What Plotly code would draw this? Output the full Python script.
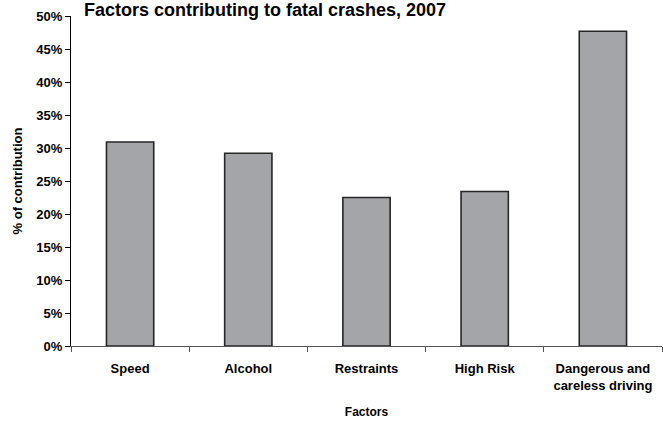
import plotly.graph_objects as go

# Share of fatal crashes in which each factor was involved (percent)
factors = ["Speed", "Alcohol", "Restraints", "High Risk", "Dangerous and<br>careless driving"]
contribution_pct = [30.9, 29.2, 22.5, 23.4, 47.7]
y_ticks = list(range(0, 51, 5))
y_tick_labels = [f"{v}%" for v in y_ticks]

FONT = "Liberation Sans, Arial, sans-serif"

fig = go.Figure(
    go.Bar(
        x=factors,
        y=contribution_pct,
        width=0.4,
        marker=dict(color="#a4a5a9", line=dict(color="#262626", width=1.6)),
        hoverinfo="x+y",
    )
)

fig.update_layout(
    width=663,
    height=425,
    margin=dict(l=71, r=1, t=15.5, b=79),
    paper_bgcolor="white",
    plot_bgcolor="white",
    showlegend=False,
    title=dict(
        text="<b>Factors contributing to fatal crashes, 2007</b>",
        x=265 / 663,
        xanchor="center",
        xref="container",
        y=1 - 3 / 425,
        yanchor="top",
        yref="container",
        pad=dict(t=0, b=0),
        font=dict(family=FONT, size=18, color="black"),
    ),
    font=dict(family=FONT, color="black"),
)

fig.update_xaxes(
    type="category",
    showline=True,
    linecolor="#555555",
    linewidth=1,
    ticks="outside",
    tickson="boundaries",
    ticklen=5,
    tickcolor="#555555",
    ticklabelstandoff=10,
    tickfont=dict(family=FONT, size=13, color="black", weight="bold"),
    title=dict(text="<b>Factors</b>", font=dict(family=FONT, size=12), standoff=16),
    showgrid=False,
    fixedrange=True,
)

fig.update_yaxes(
    range=[0, 50],
    tickvals=y_ticks,
    ticktext=y_tick_labels,
    showline=True,
    linecolor="black",
    linewidth=1,
    ticks="outside",
    ticklen=5,
    tickcolor="black",
    tickfont=dict(family=FONT, size=13, color="black", weight="bold"),
    title=dict(text="<b>% of contribution</b>", font=dict(family=FONT, size=13), standoff=10),
    showgrid=False,
    zeroline=False,
    fixedrange=True,
)

fig.write_html("out.html")
